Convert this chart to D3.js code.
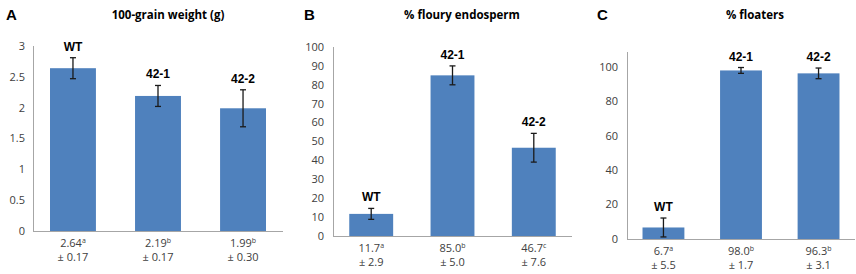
<!DOCTYPE html>
<html><head><meta charset="utf-8">
<script src="https://cdn.jsdelivr.net/npm/d3@7"></script>
<style>
body{margin:0;background:#fff;}
svg{display:block;}
</style></head>
<body>
<svg id="chart" width="856" height="274"></svg>
<script>
// ---- data ----
const panelLetters = ["A", "B", "C"];
const panelTitles = ["100-grain weight (g)", "% floury endosperm", "% floaters"];
const genotypes = ["WT", "42-1", "42-2"];

const grainWeight = [2.64, 2.19, 1.99];
const grainWeightSD = [0.17, 0.17, 0.30];
const grainWeightSig = ["a", "b", "b"];

const flouryEndo = [11.7, 85.0, 46.7];
const flouryEndoSD = [2.9, 5.0, 7.6];
const flouryEndoSig = ["a", "b", "c"];

const floaters = [6.7, 98.0, 96.3];
const floatersSD = [5.5, 1.7, 3.1];
const floatersSig = ["a", "b", "b"];

const ticksA = [0, 0.5, 1, 1.5, 2, 2.5, 3];
const tickLabelsA = ["0", "0.5", "1", "1.5", "2", "2.5", "3"];
const ticksB = [0, 10, 20, 30, 40, 50, 60, 70, 80, 90, 100];
const tickLabelsB = ticksB.map(String);
const ticksC = [0, 20, 40, 60, 80, 100];
const tickLabelsC = ticksC.map(String);

const decimalsA = 2, decimalsB = 1, decimalsC = 1;

// ---- layout ----
const svg = d3.select("#chart");
const barColor = "#4F81BD";
const axisColor = "#A6A6A6";
const tickColor = "#404040";
const sansTitle = "'Open Sans', 'Noto Sans', sans-serif";
const sansBold = "'Liberation Sans', Arial, sans-serif";

const panels = [
  {letter: panelLetters[0], title: panelTitles[0], values: grainWeight, sd: grainWeightSD, sig: grainWeightSig,
   ticks: ticksA, tickLabels: tickLabelsA, dec: decimalsA,
   x0: 33, x1: 283, y0: 231, y1: 46, domainMax: 3, axisTop: 46,
   letterX: 6, titleX: 168, labelTickX: 25},
  {letter: panelLetters[1], title: panelTitles[1], values: flouryEndo, sd: flouryEndoSD, sig: flouryEndoSig,
   ticks: ticksB, tickLabels: tickLabelsB, dec: decimalsB,
   x0: 333, x1: 572, y0: 236, y1: 47, domainMax: 100, axisTop: 47,
   letterX: 304, titleX: 462, labelTickX: 324},
  {letter: panelLetters[2], title: panelTitles[2], values: floaters, sd: floatersSD, sig: floatersSig,
   ticks: ticksC, tickLabels: tickLabelsC, dec: decimalsC,
   x0: 627, x1: 855, y0: 239, y1: 67, domainMax: 100, axisTop: 52,
   letterX: 597, titleX: 755, labelTickX: 618}
];

panels.forEach(p => {
  const g = svg.append("g");
  const x = d3.scaleBand().domain(genotypes).range([p.x0, p.x1])
    .paddingInner(0.46).paddingOuter(0.2);
  const y = d3.scaleLinear().domain([0, p.domainMax]).range([p.y0, p.y1]);

  // panel letter & title
  g.append("text").attr("x", p.letterX).attr("y", 20)
    .attr("font-family", sansBold).attr("font-weight", "bold").attr("font-size", 15)
    .attr("fill", "#000").text(p.letter);
  g.append("text").attr("x", p.titleX).attr("y", 19).attr("text-anchor", "middle")
    .attr("font-family", sansTitle).attr("font-weight", "bold").attr("font-size", 11.5)
    .attr("fill", "#000").text(p.title);

  // y axis line
  g.append("line").attr("x1", p.x0 + 0.5).attr("x2", p.x0 + 0.5)
    .attr("y1", p.axisTop).attr("y2", p.y0).attr("stroke", axisColor).attr("stroke-width", 1);

  // y tick labels
  g.selectAll(".tl").data(p.ticks).join("text")
    .attr("x", p.labelTickX).attr("y", d => y(d)).attr("dy", "0.35em")
    .attr("text-anchor", "end").attr("font-family", sansTitle).attr("font-size", 11)
    .attr("fill", tickColor).text((d, i) => p.tickLabels[i]);

  // bars
  g.selectAll(".bar").data(p.values).join("rect")
    .attr("x", (d, i) => x(genotypes[i])).attr("width", x.bandwidth())
    .attr("y", d => y(d)).attr("height", d => y(0) - y(d))
    .attr("fill", barColor);

  // x axis line
  g.append("line").attr("x1", p.x0).attr("x2", p.x1)
    .attr("y1", p.y0 + 0.5).attr("y2", p.y0 + 0.5).attr("stroke", axisColor).attr("stroke-width", 1);

  // error bars
  const cap = 3;
  p.values.forEach((v, i) => {
    const cx = x(genotypes[i]) + x.bandwidth() / 2;
    const top = y(v + p.sd[i]), bot = y(Math.max(0, v - p.sd[i]));
    const eg = g.append("g").attr("stroke", "#1a1a1a").attr("stroke-width", 1.3);
    eg.append("line").attr("x1", cx).attr("x2", cx).attr("y1", top).attr("y2", bot);
    eg.append("line").attr("x1", cx - cap).attr("x2", cx + cap).attr("y1", top).attr("y2", top);
    eg.append("line").attr("x1", cx - cap).attr("x2", cx + cap).attr("y1", bot).attr("y2", bot);

    // genotype label above
    g.append("text").attr("x", cx).attr("y", top - 7).attr("text-anchor", "middle")
      .attr("font-family", sansBold).attr("font-weight", "bold").attr("font-size", 12)
      .attr("fill", "#000").text(genotypes[i]);

    // value labels below axis
    const t1 = g.append("text").attr("x", cx).attr("y", p.y0 + 16).attr("text-anchor", "middle")
      .attr("font-family", sansTitle).attr("font-size", 11).attr("fill", tickColor);
    t1.append("tspan").text(v.toFixed(p.dec));
    t1.append("tspan").attr("font-size", 7).attr("dy", -4).text(p.sig[i]);
    g.append("text").attr("x", cx).attr("y", p.y0 + 30).attr("text-anchor", "middle")
      .attr("font-family", sansTitle).attr("font-size", 11).attr("fill", tickColor)
      .text("± " + p.sd[i].toFixed(p.dec));
  });
});
</script>
</body></html>
